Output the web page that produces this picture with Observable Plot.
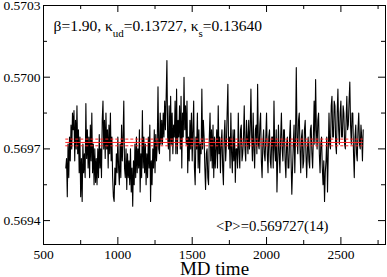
<!DOCTYPE html>
<html><head><meta charset="utf-8">
<script src="https://cdn.jsdelivr.net/npm/d3@7"></script>
<script src="https://cdn.jsdelivr.net/npm/@observablehq/plot@0.6"></script>
<style>body{margin:0;background:#fff;} svg{display:block;background:#fff}</style>
</head><body><div id="chart"></div>
<script>
// MD time of first sample and sample spacing
const tStart = 650, tStep = 5;
// plaquette history (one value every 5 MD time units)
const plaquette = [
0.56962,0.56966,0.56950,0.56972,0.56958,0.56975,0.56965,0.56980,0.56970,0.56985,
0.56978,0.56986,0.56965,0.56982,0.56970,0.56988,0.56968,0.56978,0.56960,0.56975,0.56950,0.56966,0.56948,0.56972,0.56960,0.56968,0.56958,0.56989,0.56966,0.56978,
0.56962,0.56975,0.56958,0.56980,0.56965,0.56985,0.56960,0.56972,0.56955,0.56970,0.56956,0.56966,0.56955,0.56970,0.56958,0.56976,0.56962,0.56970,0.56958,0.56982,
0.56990,0.56970,0.56982,0.56966,0.56985,0.56970,0.56978,0.56962,0.56980,0.56968,0.56985,0.56965,0.56975,0.56958,0.56950,0.56948,0.56962,0.56955,0.56968,0.56960,
0.56975,0.56962,0.56955,0.56972,0.56958,0.56980,0.56965,0.56975,0.56990,0.56962,0.56958,0.56970,0.56953,0.56968,0.56958,0.56965,0.56955,0.56970,0.56952,0.56962,
0.56946,0.56965,0.56955,0.56972,0.56958,0.56975,0.56960,0.56970,0.56962,0.56978,0.56952,0.56968,0.56958,0.56986,0.56962,0.56975,0.56960,0.56972,0.56955,0.56968,
0.56958,0.56975,0.56962,0.56980,0.56948,0.56965,0.56955,0.56970,0.56962,0.56978,0.56960,0.56976,0.56965,0.56972,0.56996,0.56970,0.56968,0.56985,0.56972,0.56982,
0.56972,0.56985,0.56975,0.56990,0.56978,0.56992,0.57007,0.56975,0.56970,0.56988,0.56965,0.56992,0.56972,0.56985,0.56968,0.56980,0.56975,0.56990,0.56968,0.56995,
0.56968,0.56982,0.56975,0.56988,0.56970,0.56992,0.56962,0.56985,0.56975,0.57000,0.56978,0.56988,0.56972,0.56990,0.56960,0.56975,0.56965,0.56982,0.56970,0.56985,
0.56965,0.56978,0.56990,0.56962,0.56955,0.56975,0.56970,0.56985,0.56962,0.56978,0.56960,0.56972,0.56968,0.56995,0.56970,0.56982,0.56975,0.56962,0.56953,0.56968,
0.56970,0.56958,0.56955,0.56975,0.56985,0.56965,0.56978,0.56962,0.56980,0.56958,0.56975,0.56962,0.56970,0.56978,0.56962,0.56988,0.56968,0.56975,0.56960,0.56972,
0.56978,0.56962,0.56955,0.56975,0.56982,0.56965,0.56972,0.56985,0.56997,0.56970,0.56975,0.56962,0.56985,0.56968,0.56960,0.56978,0.56965,0.56978,0.56956,0.56970,
0.56970,0.56962,0.56985,0.56968,0.56962,0.56978,0.56980,0.56965,0.56968,0.56975,0.56988,0.56970,0.56965,0.56982,0.56975,0.56968,0.56982,0.56970,0.56978,0.56995,
0.56975,0.56965,0.56985,0.56970,0.56962,0.56978,0.56980,0.56968,0.56997,0.56972,0.56970,0.56980,0.56985,0.56965,0.56958,0.56972,0.56978,0.56968,0.56965,0.56975,
0.56985,0.56968,0.56960,0.56975,0.56978,0.56965,0.56962,0.56975,0.56975,0.56962,0.56990,0.56970,0.56965,0.56978,0.56952,0.56965,0.56980,0.56968,0.56960,0.56975,
0.56985,0.56970,0.56965,0.56978,0.56978,0.56965,0.56958,0.56972,0.56975,0.56962,0.56962,0.56975,0.56982,0.56965,0.56951,0.56962,0.56972,0.56980,0.56960,0.56975,
0.57004,0.56975,0.56968,0.56982,0.56985,0.56970,0.56960,0.56975,0.56978,0.56962,0.56965,0.56978,0.56982,0.56968,0.56958,0.56970,0.56975,0.56965,0.56962,0.56978,
0.56980,0.56968,0.56962,0.56975,0.56990,0.56972,0.56999,0.56978,0.56970,0.56982,0.56985,0.56968,0.56960,0.56972,0.56975,0.56962,0.56955,0.56965,0.56948,0.56960,
0.56965,0.56975,0.56952,0.56968,0.56985,0.56972,0.56970,0.56988,0.56992,0.56975,0.56975,0.56990,0.56988,0.56972,0.56968,0.56985,0.56995,0.56978,0.56972,0.56985,
0.56990,0.56975,0.56975,0.56988,0.56985,0.56972,0.56970,0.56982,0.56992,0.56978,0.56980,0.56990,0.56998,0.56980,0.56972,0.56985,0.56985,0.56968,0.56958,0.56975,
0.56980,0.56968,0.56965,0.56978,0.56985,0.56972,0.56970,0.56980,0.56975,0.56965,0.56978
];
const mean = 0.569727, err = 0.000014;
const xTicks = [500, 1000, 1500, 2000, 2500];
const xMinor = [750, 1250, 1750, 2250, 2750];
const yTicks = [0.5694, 0.5697, 0.5700, 0.5703];
const yMinor = [0.56955, 0.56985, 0.57015];
const xDomain = [500, 2800], yDomain = [0.5693, 0.5703];
const annotation = "β=1.90, κud=0.13727, κs=0.13640";
const avgText = "<P>=0.569727(14)";
const xLabel = "MD time";

const data = plaquette.map((p, i) => ({t: tStart + i * tStep, p}));
const tFirst = data[0].t, tLast = data[data.length - 1].t;

const W = 387, H = 277, mL = 43, mR = 2, mT = 5, mB = 33;
const iH = H - mT - mB, iW = W - mL - mR;
const major = 7, minor = 4;

const plot = Plot.plot({
  width: W, height: H,
  marginLeft: mL, marginRight: mR, marginTop: mT, marginBottom: mB,
  style: {fontFamily: "'Liberation Serif', serif", fontSize: "13.5px", color: "black", background: "white"},
  x: {domain: xDomain, axis: null},
  y: {domain: yDomain, axis: null},
  marks: [
    Plot.lineY(data, {x: "t", y: "p", stroke: "black", strokeWidth: 1.1}),
    Plot.ruleY([mean - err, mean + err], {x1: tFirst, x2: tLast, stroke: "#ff2020", strokeWidth: 1, strokeDasharray: "3,2"}),
    Plot.ruleY([mean], {x1: tFirst, x2: tLast, stroke: "#ff2020", strokeWidth: 1}),
    // inward ticks on all four sides
    Plot.ruleX(xTicks, {x: d => d, insetTop: iH - major, stroke: "black"}),
    Plot.ruleX(xTicks, {x: d => d, insetBottom: iH - major, stroke: "black"}),
    Plot.ruleX(xMinor, {x: d => d, insetTop: iH - minor, stroke: "black"}),
    Plot.ruleX(xMinor, {x: d => d, insetBottom: iH - minor, stroke: "black"}),
    Plot.ruleY(yTicks, {y: d => d, insetRight: iW - major, stroke: "black"}),
    Plot.ruleY(yTicks, {y: d => d, insetLeft: iW - major, stroke: "black"}),
    Plot.ruleY(yMinor, {y: d => d, insetRight: iW - minor, stroke: "black"}),
    Plot.ruleY(yMinor, {y: d => d, insetLeft: iW - minor, stroke: "black"}),
    Plot.frame({stroke: "black", strokeWidth: 1}),
    Plot.axisX(xTicks, {tickSize: 0, tickPadding: 5, tickFormat: d3.format("d"), fontSize: 13.5, label: null}),
    Plot.axisY(yTicks, {tickSize: 0, tickPadding: 3, tickFormat: d3.format(".4f"), fontSize: 13.5, label: null}),
    Plot.text([xLabel], {frameAnchor: "bottom", lineAnchor: "bottom", dy: 30, fontSize: 19, text: d => d}),
    Plot.text([annotation], {frameAnchor: "top-left", lineAnchor: "bottom", dx: 10, dy: 25, textAnchor: "start", fontSize: 15.5, text: d => d}),
    Plot.text([avgText], {frameAnchor: "bottom-right", lineAnchor: "bottom", dx: -57, dy: -14, textAnchor: "end", fontSize: 14.7, text: d => d})
  ]
});
document.getElementById("chart").appendChild(plot);

// rebuild the annotation with subscripts
d3.select(plot).selectAll("text").each(function() {
  if (this.textContent === annotation) {
    const t = d3.select(this);
    t.text(null);
    const parts = [["β=1.90, κ", 0, 15.5], ["ud", 6, 11], ["=0.13727, κ", -6, 15.5], ["s", 6, 11], ["=0.13640", -6, 15.5]];
    for (const [s, dy, fs] of parts) t.append("tspan").attr("dy", dy).attr("font-size", fs).text(s);
  }
});
</script>
</body></html>
